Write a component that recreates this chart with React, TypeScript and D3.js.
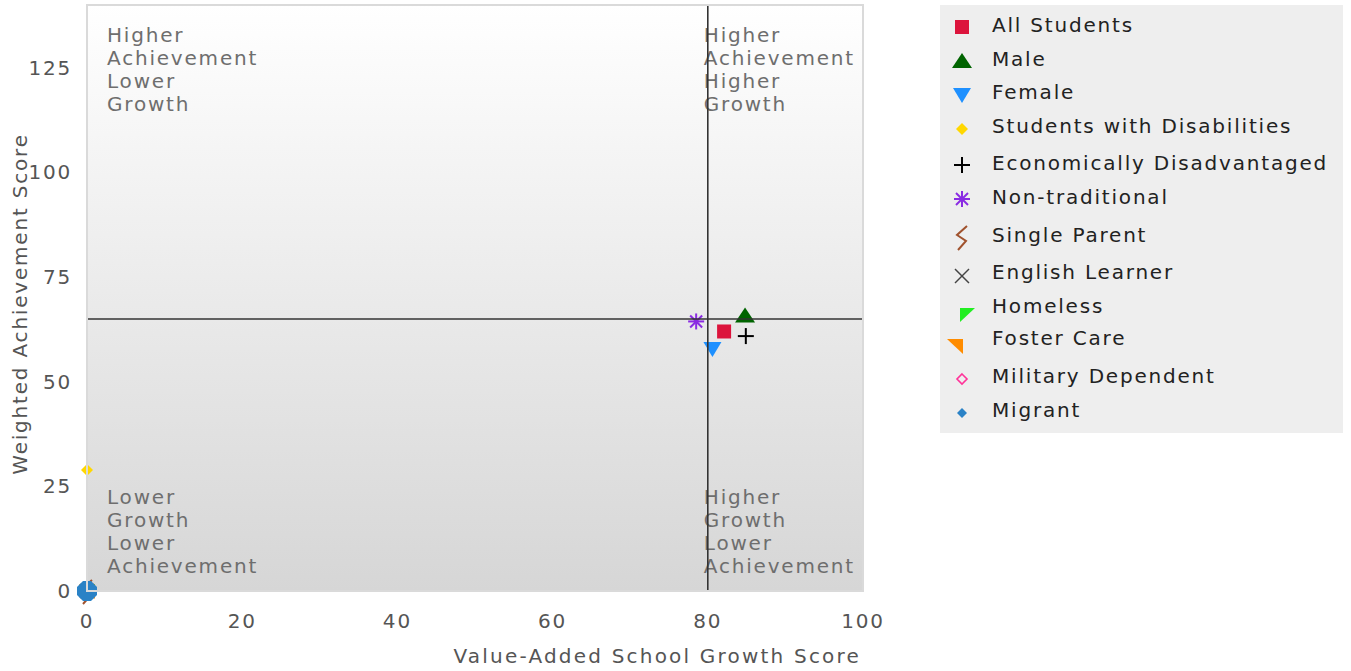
import React from "react";
import * as d3 from "d3";

// ---------- data ----------
const seriesNames = [
  "All Students",
  "Male",
  "Female",
  "Students with Disabilities",
  "Economically Disadvantaged",
  "Non-traditional",
  "Single Parent",
  "English Learner",
  "Homeless",
  "Foster Care",
  "Military Dependent",
  "Migrant",
];
const growthScores = [82.1, 84.8, 80.6, 0, 84.9, 78.5, 0, 0, 0, 0, 0, 0];
const achievementScores = [62, 65.8, 57.8, 28.9, 60.9, 64.4, 0, 0, 0, 0, 0, 0];
const seriesColors = [
  "#dc143c",
  "#006400",
  "#1e90ff",
  "#ffd700",
  "#000000",
  "#8a2be2",
  "#a0522d",
  "#444444",
  "#22ee22",
  "#ff8c00",
  "#ff3399",
  "#2a82c6",
];
const xTicks = [0, 20, 40, 60, 80, 100];
const yTicks = [0, 25, 50, 75, 100, 125];
const xThreshold = 80;
const yThreshold = 65;
const quadrantLabels = [
  { lines: ["Higher", "Achievement", "Lower", "Growth"], pos: "tl" },
  { lines: ["Higher", "Achievement", "Higher", "Growth"], pos: "tr" },
  { lines: ["Lower", "Growth", "Lower", "Achievement"], pos: "bl" },
  { lines: ["Higher", "Growth", "Lower", "Achievement"], pos: "br" },
];

// ---------- layout ----------
const W = 1351;
const H = 671;
const plot = { left: 87, right: 863, top: 5, bottom: 591 };
const legend = { x: 940, y: 5, w: 403, h: 428 };
const legendRowY = [25, 59, 92, 126, 163, 197, 235, 272, 306, 338, 376, 410];
const legendSymOffset: [number, number][] = [
  [0, 2], [0, 2], [0, 3], [0, 3], [0, 2], [0, 2],
  [0, 2], [0, 4], [5, 9], [-7, 8], [0, 3], [0, 3],
];
const FONT = "'DejaVu Sans', Verdana, sans-serif";
const LS = 1.8;

function Marker({ i, cx, cy, inPlot }: { i: number; cx: number; cy: number; inPlot: boolean }) {
  const c = seriesColors[i];
  const t = `translate(${cx},${cy})`;
  switch (i) {
    case 0:
      return <rect x={cx - 7} y={cy - 7} width={14} height={14} fill={c} />;
    case 1:
      return <path transform={t} d="M0,-8 L10,7 L-10,7 Z" fill={c} />;
    case 2:
      return <path transform={t} d="M-9,-7 L9,-7 L0,8 Z" fill={c} />;
    case 3:
      return <path transform={t} d="M0,-6 L6,0 L0,6 L-6,0 Z" fill={c} />;
    case 4:
      return (
        <g transform={t} stroke={c} strokeWidth={2}>
          <line x1={-8} x2={8} y1={0} y2={0} />
          <line x1={0} x2={0} y1={-8} y2={8} />
        </g>
      );
    case 5:
      return (
        <g transform={t} stroke={c} strokeWidth={2}>
          <line x1={-8} x2={8} y1={0} y2={0} />
          <line x1={0} x2={0} y1={-8} y2={8} />
          <line x1={-6} x2={6} y1={-6} y2={6} />
          <line x1={-6} x2={6} y1={6} y2={-6} />
        </g>
      );
    case 6:
      return (
        <path transform={t} d="M5,-11 L-5,-2 L4,4 L-4,13" fill="none" stroke={c} strokeWidth={2} />
      );
    case 7:
      return (
        <g transform={t} stroke={c} strokeWidth={1.5}>
          <line x1={-7} x2={7} y1={-7} y2={7} />
          <line x1={-7} x2={7} y1={7} y2={-7} />
        </g>
      );
    case 8:
      return <path transform={t} d="M-7,-7 L8,-7 L-7,7 Z" fill={c} />;
    case 9:
      return <path transform={t} d="M-8,-7 L8,-7 L8,8 Z" fill={c} />;
    case 10:
      return (
        <path transform={t} d="M0,-5 L5,0 L0,5 L-5,0 Z" fill="none" stroke={c} strokeWidth={1.6} />
      );
    case 11:
      if (inPlot)
        return (
          <path
            transform={t}
            d="M-4,-10 L4,-10 L10,-4 L10,4 L4,10 L-4,10 L-10,4 L-10,-4 Z"
            fill={c}
          />
        );
      return <path transform={t} d="M0,-5 L5,0 L0,5 L-5,0 Z" fill={c} />;
    default:
      return null;
  }
}

export default function App() {
  const x = d3.scaleLinear().domain([0, 100]).range([plot.left, plot.right]);
  const y = d3.scaleLinear().domain([0, 140]).range([plot.bottom, plot.top]);
  const lineH = 23;

  const quadPos = (pos: string) => {
    const lx = pos[1] === "l" ? plot.left + 20 : x(xThreshold) - 4;
    const topY = pos[0] === "t" ? plot.top + 30 : plot.bottom - 94;
    return { lx, topY };
  };

  // draw order: origin cluster first so Migrant blob ends up on top
  const order = [6, 7, 9, 8, 10, 11, 3, 0, 2, 1, 4, 5];

  return (
    <svg
      width={W}
      height={H}
      style={{ position: "absolute", left: 0, top: 0, background: "#fff" }}
      fontFamily={FONT}
    >
      <defs>
        <linearGradient id="bg" x1="0" y1="0" x2="0" y2="1">
          <stop offset="0" stopColor="#ffffff" />
          <stop offset="1" stopColor="#d6d6d6" />
        </linearGradient>
      </defs>
      <rect
        x={plot.left}
        y={plot.top}
        width={plot.right - plot.left}
        height={plot.bottom - plot.top}
        fill="url(#bg)"
      />

      {/* quadrant labels */}
      {quadrantLabels.map((q, qi) => {
        const { lx, topY } = quadPos(q.pos);
        return (
          <text key={qi} x={lx} y={topY} fontSize={20} fill="#6e6e6e" letterSpacing={LS}>
            {q.lines.map((l, li) => (
              <tspan key={li} x={lx} y={topY + li * lineH + 7}>
                {l}
              </tspan>
            ))}
          </text>
        );
      })}

      {/* markers */}
      {order.map((i) => (
        <Marker key={i} i={i} cx={x(growthScores[i])} cy={y(achievementScores[i])} inPlot={true} />
      ))}

      {/* threshold lines */}
      <line x1={x(xThreshold)} x2={x(xThreshold)} y1={plot.top} y2={plot.bottom} stroke="#333" strokeWidth={1.6} />
      <line x1={plot.left} x2={plot.right} y1={y(yThreshold)} y2={y(yThreshold)} stroke="#333" strokeWidth={1.6} />

      {/* plot border */}
      <rect
        x={plot.left}
        y={plot.top}
        width={plot.right - plot.left}
        height={plot.bottom - plot.top}
        fill="none"
        stroke="#dadada"
        strokeWidth={2}
      />

      {/* axes */}
      {xTicks.map((t) => (
        <text key={t} x={x(t)} y={628} fontSize={20} fill="#555" textAnchor="middle" letterSpacing={LS}>
          {t}
        </text>
      ))}
      {yTicks.map((t) => (
        <text key={t} x={72} y={y(t) + 7} fontSize={20} fill="#555" textAnchor="end" letterSpacing={LS}>
          {t}
        </text>
      ))}
      <text x={plot.right - 2} y={663} fontSize={20} fill="#555" textAnchor="end" letterSpacing={2.2}>
        Value-Added School Growth Score
      </text>
      <text
        transform={`translate(27,${(plot.top + plot.bottom) / 2 + 6}) rotate(-90)`}
        fontSize={20}
        fill="#555"
        textAnchor="middle"
        letterSpacing={LS}
      >
        Weighted Achievement Score
      </text>

      {/* legend */}
      <rect x={legend.x} y={legend.y} width={legend.w} height={legend.h} fill="#eeeeee" />
      {seriesNames.map((name, i) => {
        const cy = legendRowY[i];
        const [ox, oy] = legendSymOffset[i];
        return (
          <g key={name}>
            <Marker i={i} cx={962 + ox} cy={cy + oy} inPlot={false} />
            <text x={992} y={cy + 7} fontSize={20} fill="#222" letterSpacing={LS}>
              {name}
            </text>
          </g>
        );
      })}
    </svg>
  );
}
